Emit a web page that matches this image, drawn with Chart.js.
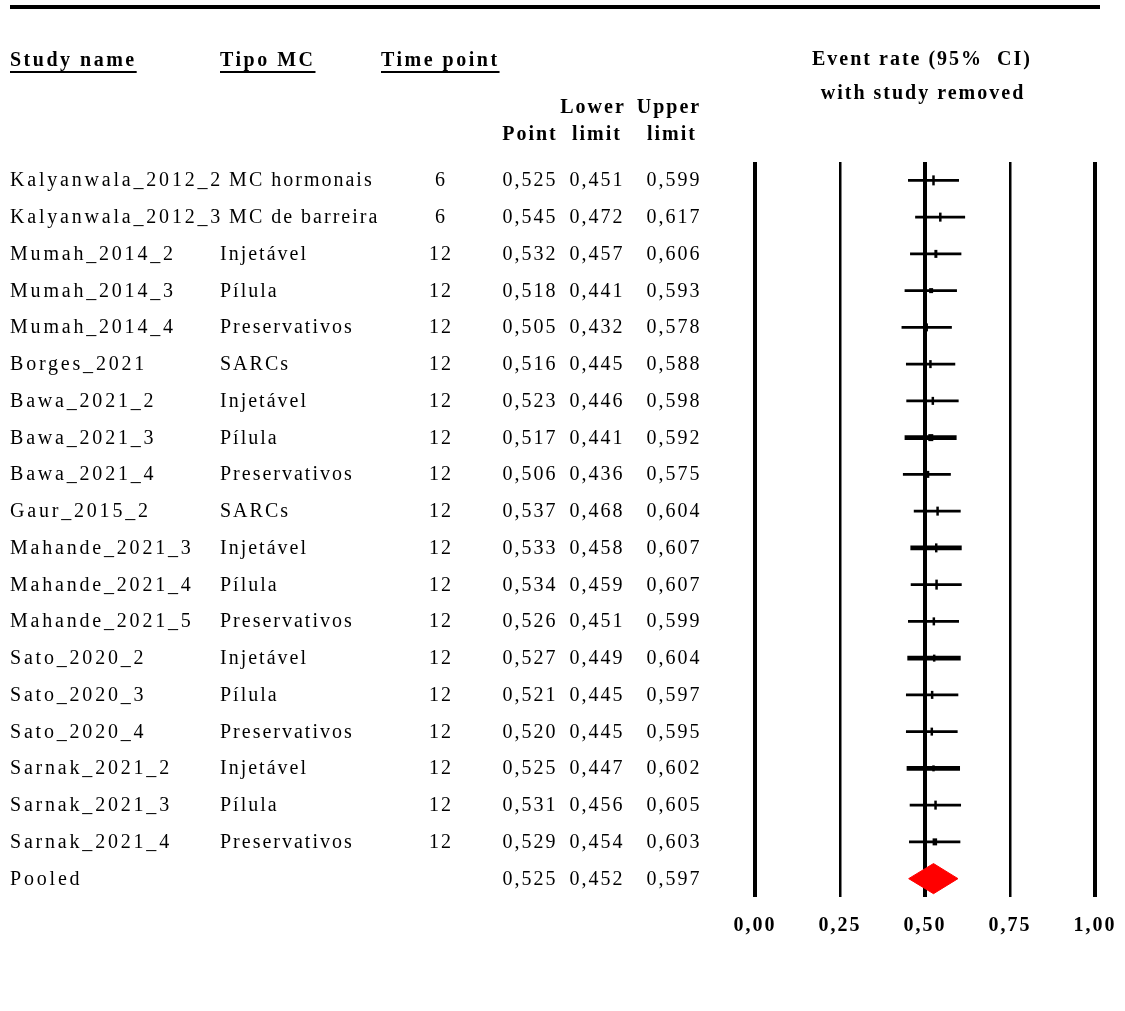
<!DOCTYPE html>
<html>
<head>
<meta charset="utf-8">
<script src="https://cdn.jsdelivr.net/npm/chart.js@4.4.1/dist/chart.umd.min.js"></script>
<style>
  html, body { margin: 0; padding: 0; background: #fff; }
  #wrap { position: absolute; left: 0; top: 0; width: 1125px; height: 1011px; }
</style>
</head>
<body>
<div id="wrap"><canvas id="c" width="1125" height="1011"></canvas></div>
<script>
// ---- data ----
const studies = ['Kalyanwala_2012_2','Kalyanwala_2012_3','Mumah_2014_2','Mumah_2014_3','Mumah_2014_4','Borges_2021','Bawa_2021_2','Bawa_2021_3','Bawa_2021_4','Gaur_2015_2','Mahande_2021_3','Mahande_2021_4','Mahande_2021_5','Sato_2020_2','Sato_2020_3','Sato_2020_4','Sarnak_2021_2','Sarnak_2021_3','Sarnak_2021_4','Pooled'];
const tipoMC = ['MC hormonais','MC de barreira','Injetável','Pílula','Preservativos','SARCs','Injetável','Pílula','Preservativos','SARCs','Injetável','Pílula','Preservativos','Injetável','Pílula','Preservativos','Injetável','Pílula','Preservativos',''];
const timePoint = ['6','6','12','12','12','12','12','12','12','12','12','12','12','12','12','12','12','12','12',''];
const pointEst = [0.525,0.545,0.532,0.518,0.505,0.516,0.523,0.517,0.506,0.537,0.533,0.534,0.526,0.527,0.521,0.520,0.525,0.531,0.529,0.525];
const lowerLimit = [0.451,0.472,0.457,0.441,0.432,0.445,0.446,0.441,0.436,0.468,0.458,0.459,0.451,0.449,0.445,0.445,0.447,0.456,0.454,0.452];
const upperLimit = [0.599,0.617,0.606,0.593,0.578,0.588,0.598,0.592,0.575,0.604,0.607,0.607,0.599,0.604,0.597,0.595,0.602,0.605,0.603,0.597];
const xTicks = [0, 0.25, 0.5, 0.75, 1];

// ---- styles (not data) ----
const markerHalf  = [5,4.5,4,2.5,4,4,4,3.5,3.5,4.5,4.5,5,4,3.5,4,4,3,4.5,3.5];
const markerWidth = [2.5,2.5,3,4,2.5,2.5,2.5,5,4.5,2.5,2.5,2.5,2.5,2.5,2.5,2.5,2.5,2.5,4.5];
const thickCIRows = [7,10,13,16];

const SERIF = '"Liberation Serif", "Times New Roman", serif';
const FS = 20;
const nStudies = studies.length - 1;
const pooledIdx = studies.length - 1;
const fmt = v => v.toFixed(3).replace('.', ',');

const thinCI = [], thickCI = [], markers = [];
for (let i = 0; i < nStudies; i++) {
  const seg = { y: i, x: [lowerLimit[i], upperLimit[i]] };
  (thickCIRows.includes(i) ? thickCI : thinCI).push(seg);
  markers.push({ x: pointEst[i], y: i });
}
const dH = 0.41;
const diamond = [
  { x: lowerLimit[pooledIdx], y: pooledIdx },
  { x: pointEst[pooledIdx], y: pooledIdx - dH },
  { x: upperLimit[pooledIdx], y: pooledIdx },
  { x: pointEst[pooledIdx], y: pooledIdx + dH },
  { x: lowerLimit[pooledIdx], y: pooledIdx }
];

const tablePlugin = {
  id: 'table',
  beforeDraw(chart) {
    chart.ctx.letterSpacing = '2px';
  },
  afterDraw(chart) {
    const ctx = chart.ctx;
    const ys = chart.scales.y;
    ctx.save();
    ctx.fillStyle = '#000';
    ctx.strokeStyle = '#000';

    // top rule
    ctx.lineWidth = 4;
    ctx.beginPath(); ctx.moveTo(10, 7); ctx.lineTo(1100, 7); ctx.stroke();

    // headers
    ctx.letterSpacing = '2.5px';
    ctx.font = 'bold ' + FS + 'px ' + SERIF;
    ctx.textBaseline = 'alphabetic';
    const under = (txt, x, y) => {
      ctx.textAlign = 'left';
      ctx.fillText(txt, x, y);
      const w = ctx.measureText(txt).width;
      ctx.lineWidth = 2;
      ctx.beginPath(); ctx.moveTo(x, y + 6); ctx.lineTo(x + w, y + 6); ctx.stroke();
    };
    under('Study name', 10, 66);
    under('Tipo MC', 220, 66);
    under('Time point', 381, 66);

    ctx.letterSpacing = '2px';
    ctx.textAlign = 'center';
    ctx.fillText('Event rate (95%  CI)', 922, 65);
    ctx.fillText('with study removed', 923, 99);
    ctx.fillText('Lower', 593, 113);
    ctx.fillText('Upper', 669, 113);
    ctx.fillText('Point', 530, 140);
    ctx.fillText('limit', 597, 140);
    ctx.fillText('limit', 672, 140);

    // rows
    ctx.font = FS + 'px ' + SERIF;
    for (let i = 0; i < studies.length; i++) {
      const y = ys.getPixelForValue(i) + 6;
      ctx.textAlign = 'left';
      ctx.letterSpacing = '2.8px';
      ctx.fillText(studies[i], 10, y);
      const endX = 10 + ctx.measureText(studies[i]).width;
      ctx.letterSpacing = '2px';
      if (tipoMC[i]) ctx.fillText(tipoMC[i], Math.max(220, endX + 6), y);
      ctx.textAlign = 'center';
      if (timePoint[i]) ctx.fillText(timePoint[i], 441, y);
      ctx.fillText(fmt(pointEst[i]), 530, y);
      ctx.fillText(fmt(lowerLimit[i]), 597, y);
      ctx.fillText(fmt(upperLimit[i]), 674, y);
    }
    ctx.restore();
  }
};

new Chart(document.getElementById('c'), {
  type: 'scatter',
  data: {
    datasets: [
      { type: 'bar', indexAxis: 'y', data: thinCI, backgroundColor: '#000', borderWidth: 0, barThickness: 2, grouped: false, order: 5 },
      { type: 'bar', indexAxis: 'y', data: thickCI, backgroundColor: '#000', borderWidth: 0, barThickness: 4, grouped: false, order: 4 },
      { type: 'scatter', data: markers, pointStyle: 'line', rotation: 90,
        pointRadius: markerHalf, pointBorderWidth: markerWidth, borderColor: '#000', backgroundColor: '#000', order: 3 },
      { type: 'line', data: diamond, showLine: true, pointRadius: 0, borderColor: '#ff0000', borderWidth: 1,
        backgroundColor: '#ff0000', fill: 'shape', order: 1 }
    ]
  },
  options: {
    responsive: false,
    animation: false,
    events: [],
    layout: { padding: { left: 755, right: 30, top: 162, bottom: 56 } },
    plugins: { legend: { display: false }, tooltip: { enabled: false } },
    scales: {
      x: {
        type: 'linear', min: 0, max: 1, offset: false,
        afterBuildTicks: s => { s.ticks = xTicks.map(v => ({ value: v })); },
        afterFit: s => { s.paddingRight = 0; s.paddingLeft = 0; },
        border: { display: false },
        grid: {
          offset: false, drawTicks: false, color: '#000',
          lineWidth: c => (c.tick && (c.tick.value === 0.25 || c.tick.value === 0.75)) ? 2.5 : 4
        },
        ticks: {
          padding: 17, color: '#000',
          font: { family: SERIF, size: FS, weight: 'bold' },
          callback: v => Number(v).toFixed(2).replace('.', ',')
        }
      },
      y: {
        type: 'linear', min: -0.5, max: studies.length - 0.5, reverse: true, display: false,
        offset: false, beginAtZero: false, grid: { offset: false }
      }
    }
  },
  plugins: [tablePlugin]
});
</script>
</body>
</html>
